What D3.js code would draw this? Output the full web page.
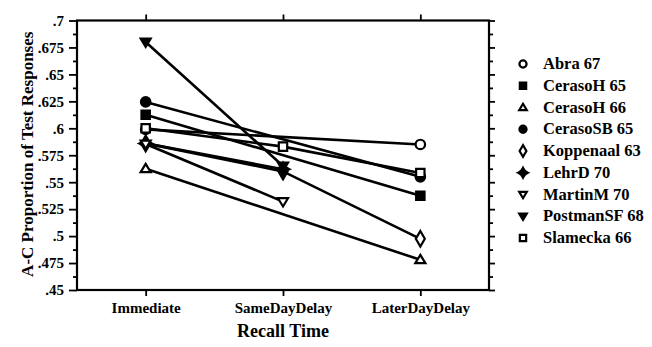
<!DOCTYPE html>
<html><head><meta charset="utf-8">
<script src="https://cdn.jsdelivr.net/npm/d3@7"></script>
<style>body{margin:0;background:#fff}svg{display:block}svg text{font-family:"Liberation Serif","Times New Roman",serif;font-weight:bold}</style>
</head><body>
<svg id="c" width="652" height="347"></svg>
<script>
const categories = ["Immediate", "SameDayDelay", "LaterDayDelay"];
const seriesNames = ["Abra 67","CerasoH 65","CerasoH 66","CerasoSB 65","Koppenaal 63","LehrD 70","MartinM 70","PostmanSF 68","Slamecka 66"];
const abra67      = [0.599, null, 0.585];
const cerasoH65   = [0.6125, null, 0.5375];
const cerasoH66   = [0.5625, null, 0.478];
const cerasoSB65  = [0.6245, null, 0.555];
const koppenaal63 = [0.586, 0.560, 0.4975];
const lehrD70     = [0.586, 0.562, null];
const martinM70   = [0.5855, 0.532, null];
const postmanSF68 = [0.680, 0.565, null];
const slamecka66  = [0.600, 0.583, 0.5585];
const yTicks = [0.45,0.475,0.5,0.525,0.55,0.575,0.6,0.625,0.65,0.675,0.7];
const yMinor = [0.4625,0.4875,0.5125,0.5375,0.5625,0.5875,0.6125,0.6375,0.6625,0.6875];

const seriesValues = [abra67,cerasoH65,cerasoH66,cerasoSB65,koppenaal63,lehrD70,martinM70,postmanSF68,slamecka66];

const star4 = (size)=>{ const r=Math.sqrt(size)*0.75, k=r*0.3;
  return `M0,${-r}Q${k},${-k} ${r},0Q${k},${k} 0,${r}Q${-k},${k} ${-r},0Q${-k},${-k} 0,${-r}Z`; };
const tri = (size,down)=>{ const s=Math.sqrt(size)*1.0, h=s*0.9; const d=down?-1:1;
  return `M0,${-h*0.65*d}L${s*0.6},${h*0.45*d}L${-s*0.6},${h*0.45*d}Z`; };
const markers = [
  {t:"circle", fill:false},
  {t:"square", fill:true},
  {t:"triUp", fill:false},
  {t:"circle", fill:true},
  {t:"diamond", fill:false},
  {t:"star4", fill:true},
  {t:"triDown", fill:false},
  {t:"triDown", fill:true},
  {t:"square", fill:false}
];
function markerPath(t,size){
  if(t==="circle") return d3.symbol(d3.symbolCircle,size)();
  if(t==="square") return d3.symbol(d3.symbolSquare,size)();
  if(t==="diamond") return d3.symbol(d3.symbolDiamond,size)();
  if(t==="star4") return star4(size);
  if(t==="triUp") return tri(size,false);
  if(t==="triDown") return tri(size,true);
}

const svg = d3.select("#c");
const L=77, R=489, T=20.5, B=290;
const x = d3.scalePoint().domain(categories).range([L,R]).padding(0.5);
const y = d3.scaleLinear().domain([0.45,0.7]).range([B,T]);
const fmt = v => String(+v.toFixed(4)).replace(/^0/,"");

svg.append("rect").attr("x",L).attr("y",T).attr("width",R-L).attr("height",B-T)
  .attr("fill","none").attr("stroke","#000").attr("stroke-width",2.2);

function styleAxis(g){ g.attr("font-family",null); g.select(".domain").remove(); g.selectAll("line").attr("stroke","#000").attr("stroke-width",1.8); }
function styleText(g){ g.selectAll("text").style("font-size","15px").attr("fill","#000"); }

svg.append("g").attr("transform",`translate(${L},0)`)
  .call(d3.axisLeft(y).tickValues(yTicks).tickFormat(fmt).tickSize(8).tickPadding(5))
  .call(styleAxis).call(styleText);
svg.append("g").attr("transform",`translate(${L},0)`)
  .call(d3.axisLeft(y).tickValues(yMinor).tickFormat("").tickSize(4)).call(styleAxis);
svg.append("g").attr("transform",`translate(${R},0)`)
  .call(d3.axisRight(y).tickValues(yTicks).tickFormat("").tickSize(6)).call(styleAxis);
svg.append("g").attr("transform",`translate(${R},0)`)
  .call(d3.axisRight(y).tickValues(yMinor).tickFormat("").tickSize(4)).call(styleAxis);
svg.append("g").attr("transform",`translate(0,${T})`)
  .call(d3.axisTop(x).tickFormat("").tickSize(6)).call(styleAxis);
svg.append("g").attr("transform",`translate(0,${B})`)
  .call(d3.axisBottom(x).tickSize(6).tickPadding(6))
  .call(styleAxis).call(styleText);

svg.append("text").attr("x",(L+R)/2).attr("y",337).attr("text-anchor","middle")
  .style("font-size","18px").text("Recall Time");
svg.append("text").attr("transform",`translate(33,${(T+B)/2 - 1}) rotate(-90)`).attr("text-anchor","middle")
  .style("font-size","17px").text("A-C Proportion of Test Responses");

const line = d3.line().x(d=>x(d.c)).y(d=>y(d.v));
seriesValues.forEach((vals,i)=>{
  const pts = vals.map((v,j)=>({c:categories[j],v})).filter(d=>d.v!=null);
  svg.append("path").attr("d",line(pts)).attr("fill","none").attr("stroke","#000").attr("stroke-width",2.6);
});
seriesValues.forEach((vals,i)=>{
  const m = markers[i];
  vals.forEach((v,j)=>{
    if(v==null) return;
    svg.append("path").attr("d",markerPath(m.t,70))
      .attr("transform",`translate(${x(categories[j])},${y(v)})`)
      .attr("fill",m.fill?"#000":"#fff").attr("stroke","#000").attr("stroke-width",2.2);
  });
});

const lg = svg.append("g");
seriesNames.forEach((n,i)=>{
  const yy = 64 + i*21.75;
  const m = markers[i];
  lg.append("path").attr("d",markerPath(m.t,40)).attr("transform",`translate(523,${yy})`)
    .attr("fill",m.fill?"#000":"#fff").attr("stroke","#000").attr("stroke-width",2.2);
  lg.append("text").attr("x",543).attr("y",yy+5).style("font-size","16.5px")
    .attr("fill","#000").text(n);
});
</script>
</body></html>
